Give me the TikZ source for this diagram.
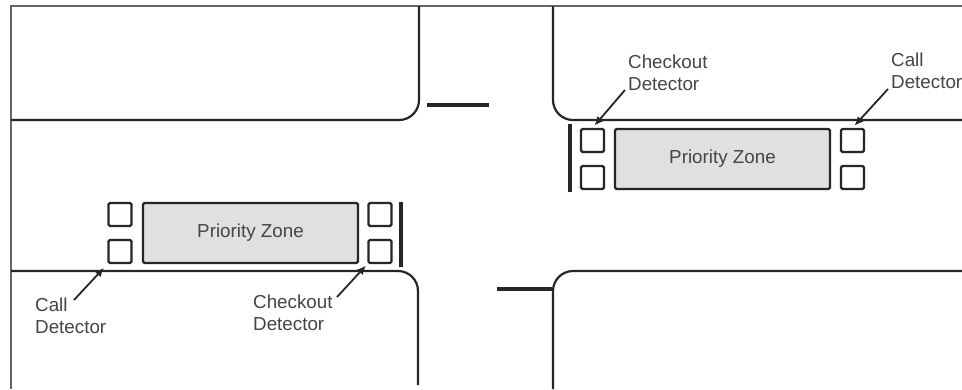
\documentclass[tikz,border=0pt]{standalone}
\usepackage{fontspec}
\setmainfont{Liberation Sans}
\usetikzlibrary{arrows.meta}
\definecolor{ink}{gray}{0.15}
\definecolor{frame}{gray}{0.4}
\definecolor{zonefill}{gray}{0.88}
\definecolor{txt}{gray}{0.27}
\tikzset{
  road/.style={draw=ink,line width=2.2pt,rounded corners=20pt},
  border/.style={draw=frame,line width=2.8pt},
  bar/.style={draw=ink,line width=3.2pt},
  zone/.style={draw=ink,line width=2.3pt,fill=zonefill,rounded corners=1.5pt,minimum width=215pt,minimum height=60pt,inner sep=0pt,text=txt,font=\fontsize{18.8}{20}\selectfont},
  det/.style={draw=ink,line width=2.3pt,rounded corners=1.5pt,minimum width=23pt,minimum height=23pt,inner sep=0pt},
  lab/.style={align=left,anchor=north west,inner sep=0pt,text=txt,font=\fontsize{18.8}{22}\selectfont},
  lead/.style={draw=ink,line width=1.8pt,-{Latex[length=9pt,width=8pt]}}
}
\begin{document}
\begin{tikzpicture}[x=1pt,y=-1pt]
\useasboundingbox (0,0) rectangle (962,389);
\clip (0,0) rectangle (962,389);
\fill[white] (0,0) rectangle (962,389);
% frame
\draw[border] (11,389) -- (11,6) -- (962,6);
% road edges
\draw[road] (419,6) -- (419,120) -- (11,120);
\draw[road] (553,6) -- (553,120) -- (962,120);
\draw[road] (11,271) -- (418,271) -- (418,385);
\draw[road] (962,271) -- (553,271) -- (553,389);
% stop bars
\draw[bar] (427,105) -- (489,105);
\draw[bar] (497,289) -- (552,289);
\draw[bar] (401,202) -- (401,267);
\draw[bar] (570,124) -- (570,192);
% lower zone
\node[zone] (zoneA) at (250.5,233) {Priority Zone};
\node[det] (a1) at (120,214.5) {};
\node[det] (a2) at (120,251.5) {};
\node[det] (a3) at (380,214.5) {};
\node[det] (a4) at (380,251.5) {};
% upper zone
\node[zone] (zoneB) at (722.5,159) {Priority Zone};
\node[det] (b1) at (592.5,140.5) {};
\node[det] (b2) at (592.5,177.5) {};
\node[det] (b3) at (852.5,140.5) {};
\node[det] (b4) at (852.5,177.5) {};
% labels
\node[lab] (callA) at (35,298) {Call\\Detector};
\node[lab] (checkA) at (253,295) {Checkout\\Detector};
\node[lab] (checkB) at (628,54.5) {Checkout\\Detector};
\node[lab] (callB) at (891,53) {Call\\Detector};
% connectors
\coordinate (callAs) at (74,300);
\coordinate (checkAs) at (337,297);
\coordinate (checkBs) at (625,90);
\coordinate (callBs) at (888,89);
\draw[lead,shorten >=5pt] (callAs) -- (a2.south west);
\draw[lead,shorten >=2pt] (checkAs) -- (a4.south west);
\draw[lead,shorten >=3pt] (checkBs) -- (b1.north);
\draw[lead,shorten >=3pt] (callBs) -- (b3.north);
\end{tikzpicture}
\end{document}
